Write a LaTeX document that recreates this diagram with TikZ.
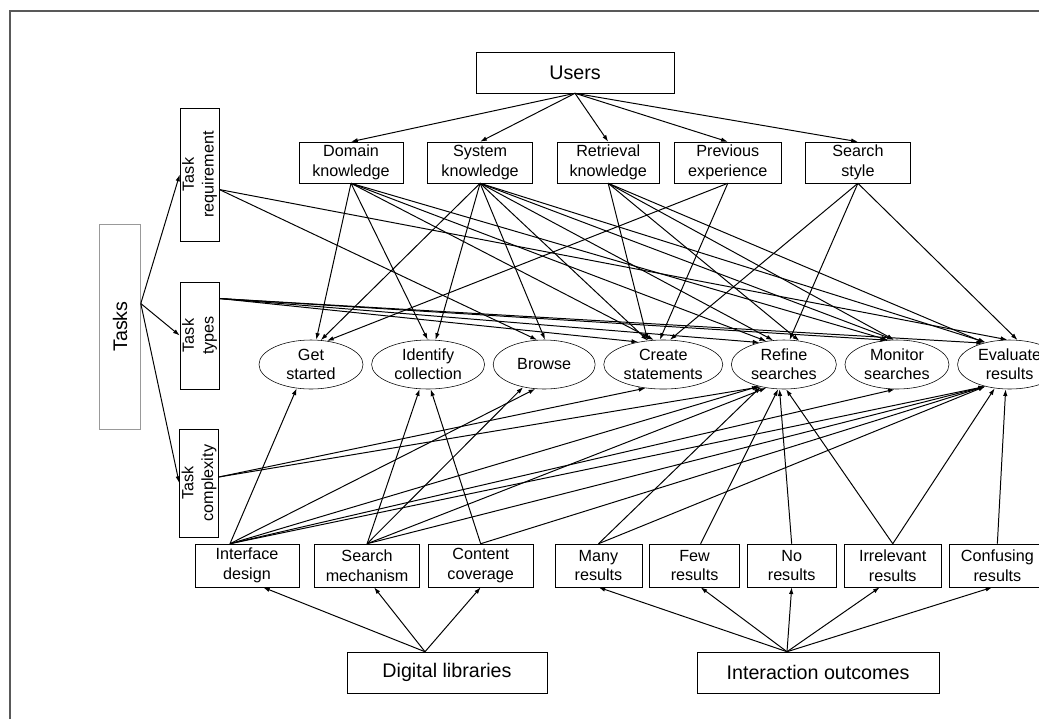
\documentclass[tikz,border=0pt]{standalone}
\usepackage{fontspec}
\setmainfont{Liberation Sans}
\usetikzlibrary{positioning}
\usetikzlibrary{calc}
\usetikzlibrary{shapes.geometric}
\usetikzlibrary{arrows.meta}

\tikzset{
  factor/.style={draw, rectangle, align=center, inner sep=1pt, minimum height=1.025cm, font=\fontsize{11.5}{14}\selectfont},
  result/.style={factor, minimum height=1.075cm},
  side/.style={factor, rotate=90, minimum height=0.975cm},
  stage/.style={draw, ellipse, align=center, inner sep=0pt, minimum height=1.225cm, font=\fontsize{11.5}{13.5}\selectfont},
  group/.style={draw, rectangle, inner sep=1pt, minimum height=1.025cm, font=\fontsize{14}{16}\selectfont},
  link/.style={-{Latex[length=4.8pt,width=3.2pt]}, line width=0.7pt},
}

\begin{document}
\begin{tikzpicture}[x=0.025cm, y=-0.025cm]
  \useasboundingbox (0,0) rectangle (1039,719);
  \clip (0,0) rectangle (1039,719);
  \draw[black!65, line width=0.8pt] (10,719) -- (10,11) -- (1039,11);

  % users and their factors
  \node[group, minimum width=4.95cm] (us) at (575,72.5) {Users};
  \node[factor, minimum width=2.6cm] (dk) at (351,162.5) {Domain\\knowledge};
  \node[factor, minimum width=2.625cm, right=0.6cm of dk] (sk) {System\\knowledge};
  \node[factor, minimum width=2.55cm, right=0.6cm of sk] (rk) {Retrieval\\knowledge};
  \node[factor, minimum width=2.65cm, right=0.375cm of rk] (pe) {Previous\\experience};
  \node[factor, minimum width=2.625cm, right=0.6cm of pe] (ss) {Search\\style};

  % tasks
  \node[group, rotate=90, draw=black!40, minimum width=5.125cm] (tk) at (120,326.5) {Tasks};
  \node[side, minimum width=3.325cm] (tr) at (199.5,174.5) {Task\\requirement};
  \node[side, minimum width=2.675cm] (tt) at (199.5,335.5) {Task\\types};
  \node[side, minimum width=2.7cm] (tc) at (199,483) {Task\\complexity};

  % stages
  \node[stage, minimum width=2.6cm] (gs) at (311,364.5) {Get\\started};
  \node[stage, minimum width=2.825cm, right=0.2cm of gs] (ic) {Identify\\collection};
  \node[stage, minimum width=2.55cm, right=0.2cm of ic] (br) {Browse};
  \node[stage, minimum width=2.975cm, right=0.2cm of br] (cs) {Create\\statements};
  \node[stage, minimum width=2.625cm, right=0.2cm of cs] (rs) {Refine\\searches};
  \node[stage, minimum width=2.6cm, right=0.2cm of rs] (ms) {Monitor\\searches};
  \node[stage, minimum width=2.6cm, right=0.2cm of ms] (er) {Evaluate\\results};

  % digital libraries and outcomes
  \node[result, minimum width=2.6cm] (id) at (247,565.5) {Interface\\design};
  \node[result, minimum width=2.625cm, right=0.375cm of id] (sm) {Search\\mechanism};
  \node[result, minimum width=2.625cm, right=0.2cm of sm] (cc) {Content\\coverage};
  \node[result, minimum width=2.175cm] (mr) at (598.5,565.5) {Many\\results};
  \node[result, minimum width=2.25cm, right=0.175cm of mr] (fr) {Few\\results};
  \node[result, minimum width=2.225cm, right=0.175cm of fr] (nr) {No\\results};
  \node[result, minimum width=2.4cm, right=0.2cm of nr] (ir) {Irrelevant\\results};
  \node[result, minimum width=2.4cm, right=0.2cm of ir] (cf) {Confusing\\results};
  \node[group, minimum width=5cm] (dl) at (447,672.5) {Digital libraries};
  \node[group, minimum width=6.05cm] (io) at (818,672.5) {Interaction outcomes};

  \coordinate (tkout) at ($(tk.south)+(0,-23)$);
  \coordinate (trout) at ($(tr.south)+(0,15)$);
  \coordinate (ttout) at ($(tt.south)+(0,-37)$);
  \coordinate (tcout) at ($(tc.south)+(0,-6)$);
  \coordinate (idout) at ($(id.north)+(-17,0)$);
  \coordinate (dlout) at ($(dl.north)+(-22,0)$);
  \coordinate (ioout) at ($(io.north)+(-31,0)$);

  % top half
  \foreach \n in {dk,sk,rk,pe,ss}
    \draw[link] (us.south) -- (\n.north);
  \foreach \n in {tr,tt,tc}
    \draw[link] (tkout) -- (\n.north);
  \foreach \t in {br.106,er.95}
    \draw[link] (trout) -- (\t);
  \foreach \t in {cs.138,rs.138,ms.112,er.141}
    \draw[link] (ttout) -- (\t);
  \foreach \t in {gs.78,ic.91,cs.111,rs.127,ms.110}
    \draw[link] (dk.south) -- (\t);
  \foreach \t in {gs.68,ic.73,br.88,cs.123,rs.114,ms.97,er.137}
    \draw[link] (sk.south) -- (\t);
  \foreach \t in {cs.123,rs.57,ms.97,er.139}
    \draw[link] (rk.south) -- (\t);
  \foreach \t in {gs.56,cs.98}
    \draw[link] (pe.south) -- (\t);
  \foreach \t in {cs.75,rs.77,er.72}
    \draw[link] (ss.south) -- (\t);

  % bottom half
  \foreach \t in {cs.233,rs.224}
    \draw[link] (tcout) -- (\t);
  \foreach \t in {gs.239,br.250,rs.221,ms.265,er.222}
    \draw[link] (idout) -- (\t);
  \foreach \t in {ic.251,br.227,rs.233,er.222}
    \draw[link] (sm.north) -- (\t);
  \foreach \t in {ic.276,er.222}
    \draw[link] (cc.north) -- (\t);
  \foreach \t in {rs.224,er.222}
    \draw[link] (mr.north) -- (\t);
  \draw[link] ($(fr.north)+(6,0)$) -- (rs.257);
  \draw[link] (nr.north) -- (rs.260);
  \foreach \t in {rs.275,er.238}
    \draw[link] (ir.north) -- (\t);
  \draw[link] (cf.north) -- (er.261);

  \draw[link] (dlout) -- ($(id.south)+(16,0)$);
  \draw[link] (dlout) -- ($(sm.south)+(7,0)$);
  \draw[link] (dlout) -- (cc.south);
  \draw[link] (ioout) -- (mr.south);
  \draw[link] (ioout) -- ($(fr.south)+(6,0)$);
  \draw[link] (ioout) -- (nr.south);
  \draw[link] (ioout) -- ($(ir.south)+(-13,0)$);
  \draw[link] (ioout) -- ($(cf.south)+(-5,0)$);
\end{tikzpicture}
\end{document}
